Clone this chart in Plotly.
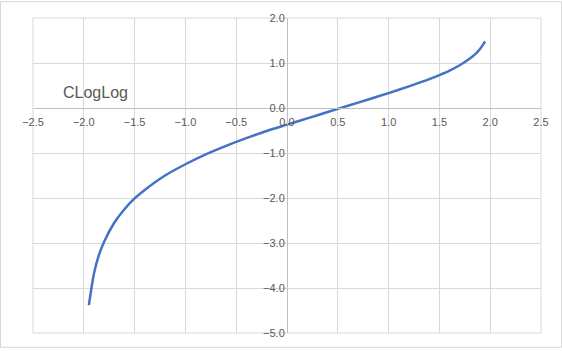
import plotly.graph_objects as go

x_vals = [-1.95, -1.9, -1.85, -1.8, -1.7, -1.6, -1.5, -1.4, -1.2, -1.0, -0.8, -0.6,
          -0.4, -0.2, 0.0, 0.2, 0.4, 0.6, 0.8, 1.0, 1.2, 1.4, 1.5, 1.6, 1.7, 1.8,
          1.85, 1.9, 1.95]
y_vals = [-4.38, -3.68, -3.26, -2.97, -2.55, -2.25, -2.01, -1.82, -1.50, -1.25, -1.03, -0.84,
          -0.67, -0.51, -0.37, -0.23, -0.09, 0.05, 0.19, 0.33, 0.48, 0.64, 0.73, 0.83, 0.95, 1.10,
          1.19, 1.31, 1.48]
title_text = "CLogLog"

W, H = 562, 351
ML, MR, MT, MB = 33, 21, 17, 15
PW, PH = W - ML - MR, H - MT - MB

fig = go.Figure()
fig.add_trace(go.Scatter(x=x_vals, y=y_vals, mode="lines",
                         line=dict(color="#4472C4", width=2.5, shape="spline", smoothing=0.6),
                         showlegend=False, hoverinfo="skip"))

tick_font = dict(family="Liberation Sans, Arial, sans-serif", size=11, color="#595959")

fig.update_layout(
    width=W, height=H,
    margin=dict(l=ML, r=MR, t=MT, b=MB),
    paper_bgcolor="white", plot_bgcolor="white",
    xaxis=dict(range=[-2.5, 2.5], dtick=0.5, tick0=-2.5, tickformat=".1f",
               showgrid=True, gridcolor="#d9d9d9", gridwidth=1, zeroline=False,
               showline=True, linecolor="#bfbfbf", linewidth=1,
               anchor="free", position=5/7, side="bottom",
               ticks="outside", ticklen=4, tickcolor="rgba(0,0,0,0)",
               tickfont=tick_font, fixedrange=True),
    yaxis=dict(range=[-5, 2], dtick=1, tick0=-5, tickformat=".1f",
               showgrid=True, gridcolor="#d9d9d9", gridwidth=1, zeroline=False,
               showline=True, linecolor="#bfbfbf", linewidth=1,
               anchor="free", position=0.5, side="left",
               ticks="outside", ticklen=0, tickcolor="rgba(0,0,0,0)",
               tickfont=tick_font, fixedrange=True),
    annotations=[dict(text=title_text, xref="paper", yref="paper",
                      x=(95 - ML) / PW, y=1 - (92 - MT) / PH,
                      xanchor="center", yanchor="middle", showarrow=False,
                      font=dict(family="Liberation Sans, Arial, sans-serif", size=16, color="#595959"))],
    shapes=[
        dict(type="rect", xref="paper", yref="paper", layer="below",
             x0=(0.5 - ML) / PW, x1=(W - 0.5 - ML) / PW,
             y0=-(MB - 0.5) / PH, y1=1 + (MT - 0.5) / PH,
             line=dict(color="#d9d9d9", width=1)),
        dict(type="line", xref="paper", yref="paper", layer="below",
             x0=0, x1=1, y0=1, y1=1, line=dict(color="#d9d9d9", width=1)),
        dict(type="line", xref="paper", yref="paper", layer="below",
             x0=0, x1=1, y0=0, y1=0, line=dict(color="#d9d9d9", width=1)),
        dict(type="line", xref="paper", yref="paper", layer="below",
             x0=0, x1=0, y0=0, y1=1, line=dict(color="#d9d9d9", width=1)),
        dict(type="line", xref="paper", yref="paper", layer="below",
             x0=1, x1=1, y0=0, y1=1, line=dict(color="#d9d9d9", width=1)),
    ],
)

fig.write_html("out.html")
